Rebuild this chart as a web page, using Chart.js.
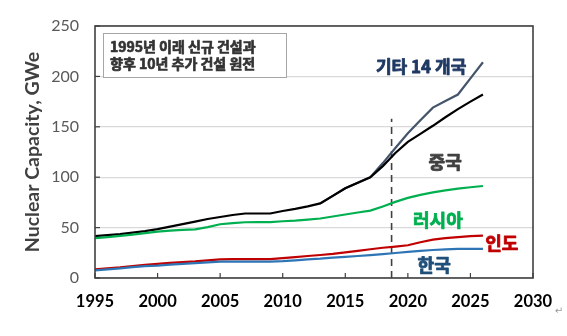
<!DOCTYPE html>
<html><head><meta charset="utf-8">
<script src="https://cdn.jsdelivr.net/npm/chart.js@4/dist/chart.umd.min.js"></script>
<style>html,body{margin:0;padding:0;background:#fff;}canvas{display:block;}</style>
</head><body>
<canvas id="c" width="567" height="336"></canvas>
<script>
const years = [1995,1996,1997,1998,1999,2000,2001,2002,2003,2004,2005,2006,2007,2008,2009,2010,2011,2012,2013,2014,2015,2016,2017,2018,2019,2020,2021,2022,2023,2024,2025,2026];
const china  = [41.5,42.5,43.5,45,46.5,48.5,51,53.5,56,58.5,60.5,62.5,64,64,64,66.5,68.5,71,74,81.5,89,94.5,100,111,124,135,143,151,159.5,167.5,175,182];
const others = [null,null,null,null,null,null,null,null,null,null,null,null,null,null,null,null,null,null,74,81.5,89,94.5,100,114,129,143.5,156.5,169,175.5,182,198,214];
const russia = [39.5,40.5,41.7,43,44.5,46,47,47.8,48.3,50.5,53.3,54.5,55.3,55.5,55.5,56.3,57,58,59,61,63,65,66.8,71,75.5,79.5,82.5,85,87,88.7,90,91.3];
const india  = [8.5,9.5,10.5,11.8,13,14,15,15.8,16.5,17.5,18.5,18.7,18.8,18.8,18.8,19.8,20.8,21.8,22.8,24,25.5,27,28.5,30,31.2,32.5,35.5,38,39.5,40.5,41.5,42];
const korea  = [7.5,8.5,9.5,10.8,11.8,12.3,13.2,14,14.8,15.5,16.2,16.2,16.2,16.2,16.2,16.7,17.5,18.5,19.2,20.3,21,21.8,22.6,23.6,24.8,26,27,27.8,28.4,28.8,28.8,28.8];
const dashYear = 2018.7;
const dashTop = 158;
const xTicks = [1995,2000,2005,2010,2015,2020,2025,2030];
const yTicks = [0,50,100,150,200,250];
const seriesNames = ['기타 14 개국','중국','러시아','인도','한국'];
const boxLines = ['1995년 이래 신규 건설과','향후 10년 추가 건설 원전'];
const yTitle = 'Nuclear Capacity, GWe';

const pts = arr => years.map((y,i)=>({x:y,y:arr[i]}));

function boldText(ctx, t, x, y, w){
  ctx.lineWidth = w; ctx.strokeStyle = ctx.fillStyle; ctx.lineJoin='round';
  ctx.strokeText(t, x, y); ctx.fillText(t, x, y);
}

const frame = {
  id:'frame',
  afterDraw(chart){
    const {ctx, chartArea:a, scales:{x,y}} = chart;
    ctx.save();
    ctx.strokeStyle='#404040'; ctx.lineWidth=1.2;
    xTicks.forEach(v=>{const px=x.getPixelForValue(v); ctx.beginPath(); ctx.moveTo(px,a.bottom); ctx.lineTo(px,a.bottom-5); ctx.stroke();});
    yTicks.forEach(v=>{const py=y.getPixelForValue(v); ctx.beginPath(); ctx.moveTo(a.left,py); ctx.lineTo(a.left+5,py); ctx.stroke();});
    ctx.strokeStyle='#404040'; ctx.lineWidth=1.6;
    ctx.strokeRect(a.left,a.top,a.right-a.left,a.bottom-a.top);
    const bx=a.left+8, by=a.top+7, bw=183, bh=44;
    ctx.fillStyle='#fff'; ctx.fillRect(bx,by,bw,bh);
    ctx.strokeStyle='#A6A6A6'; ctx.lineWidth=1; ctx.strokeRect(bx+0.5,by+0.5,bw,bh);
    ctx.fillStyle='#333'; ctx.font='bold 14px "Noto Sans CJK KR"'; ctx.textAlign='left'; ctx.textBaseline='middle';
    boldText(ctx, boxLines[0], bx+7, by+14, 0.7);
    ctx.fillStyle='#333';
    boldText(ctx, boxLines[1], bx+7, by+31, 0.7);
    const labs = [
      {t:seriesNames[0], x:2021.06, y:209.3, c:'#1F3864', s:17},
      {t:seriesNames[1], x:2022.98, y:115, c:'#404040', s:18},
      {t:seriesNames[2], x:2022.4, y:57.5, c:'#00B050', s:18},
      {t:seriesNames[3], x:2027.5, y:34.7, c:'#C00000', s:18},
      {t:seriesNames[4], x:2022.1, y:12.9, c:'#1F4E79', s:18}
    ];
    ctx.textAlign='center';
    labs.forEach(l=>{ctx.fillStyle=l.c; ctx.font='bold '+l.s+'px "Noto Sans CJK KR"'; boldText(ctx, l.t, x.getPixelForValue(l.x), y.getPixelForValue(l.y), 0.8);});
    ctx.fillStyle='#999'; ctx.font='10px "DejaVu Sans"'; ctx.fillText('↵', 559, 311);
    ctx.restore();
  }
};

const ln = (data,color,w) => ({data:pts(data), borderColor:color, backgroundColor:color, borderWidth:w||2.2, pointRadius:0, tension:0, spanGaps:false});

new Chart(document.getElementById('c'), {
  type:'line',
  data:{datasets:[
    ln(korea,'#2E75B6'),
    ln(india,'#C00000'),
    ln(russia,'#00B050'),
    ln(china,'#000000'),
    ln(others,'#44546A'),
    {data:[{x:dashYear,y:0},{x:dashYear,y:dashTop}], borderColor:'#404040', borderWidth:1.6, borderDash:[7,5], pointRadius:0}
  ]},
  options:{
    responsive:false, animation:false,
    layout:{padding:{left:0,top:26,right:34,bottom:0}},
    plugins:{legend:{display:false}, tooltip:{enabled:false}},
    scales:{
      x:{type:'linear', min:1995, max:2030,
        afterBuildTicks:s=>{s.ticks=xTicks.map(v=>({value:v}));},
        afterFit:s=>{s.height=58;},
        grid:{display:false, drawTicks:false},
        border:{display:false},
        ticks:{color:'#000', font:{family:'Lato', size:16.5, weight:'bold'}, padding:14, maxRotation:0, callback:v=>String(v)}
      },
      y:{min:0, max:250,
        afterBuildTicks:s=>{s.ticks=yTicks.map(v=>({value:v}));},
        afterFit:s=>{s.width=95;},
        grid:{color:'#D9D9D9', lineWidth:1.2, drawTicks:false},
        border:{display:false},
        ticks:{color:'#595959', font:{family:'Lato', size:16}, padding:16},
        title:{display:true, text:yTitle, color:'#404040', font:{family:'Lato', size:19.5, weight:'bold'}, padding:{top:21,bottom:0}}
      }
    }
  },
  plugins:[frame]
});
</script>
</body></html>
